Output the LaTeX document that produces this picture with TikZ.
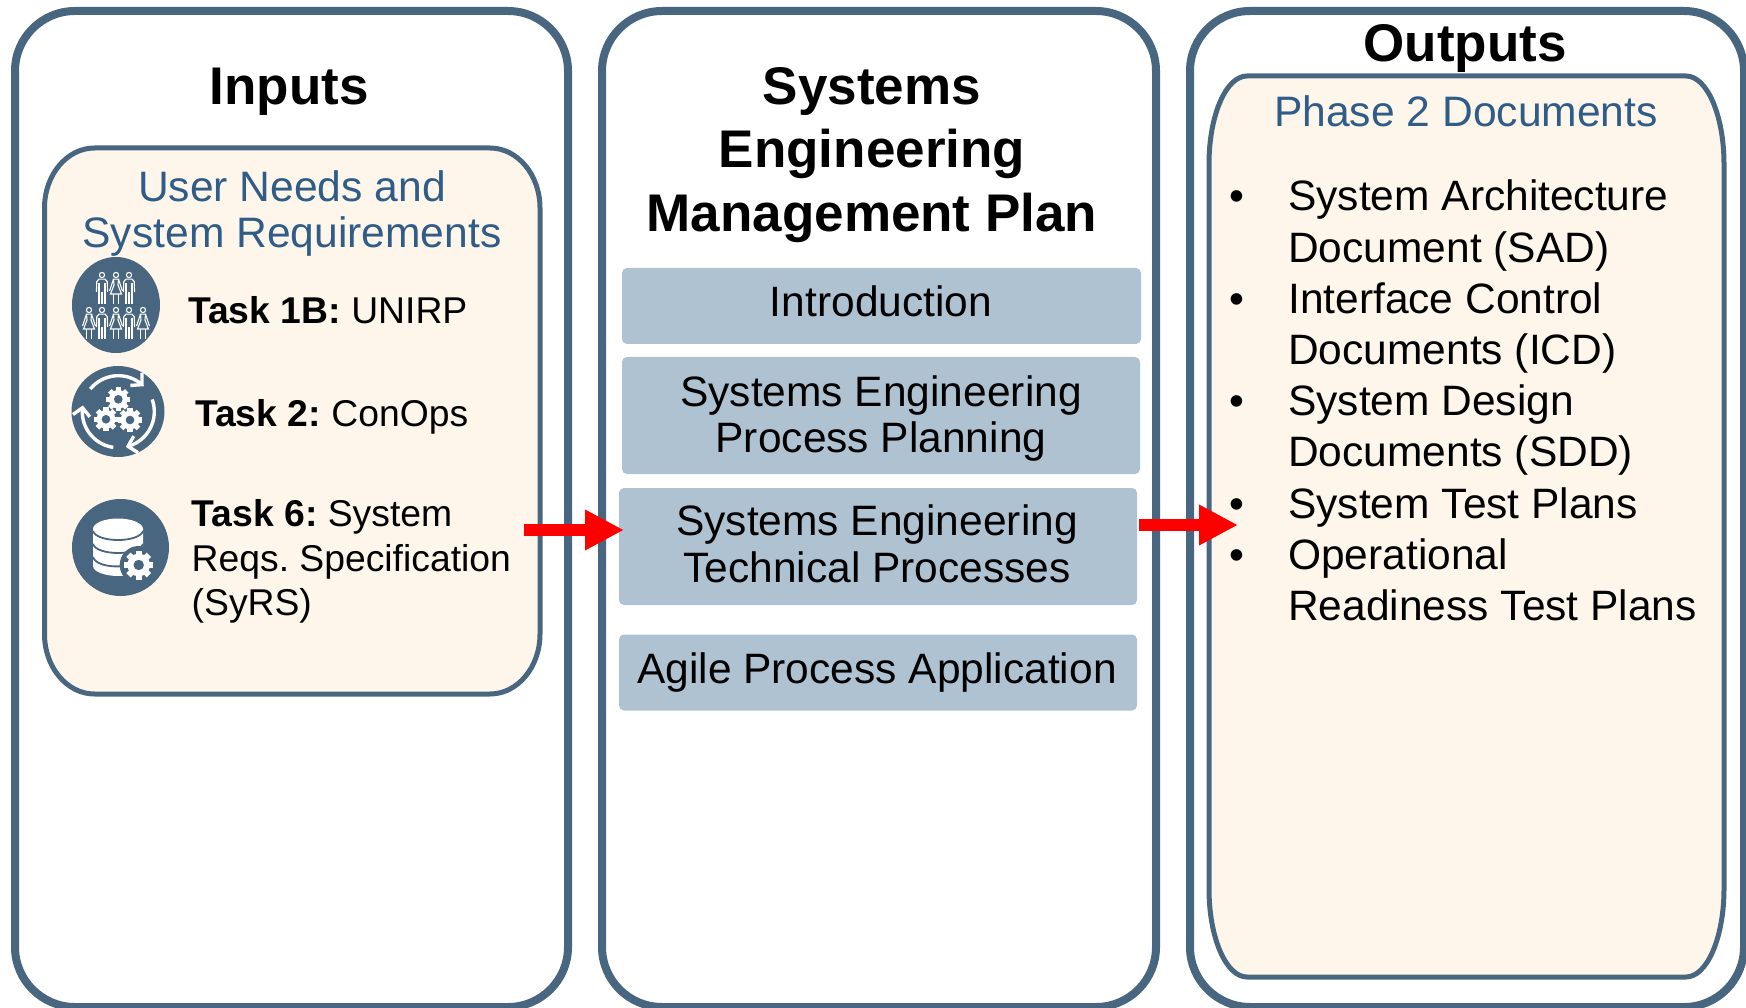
\documentclass[tikz,border=0pt]{standalone}
\usepackage{fontspec}
\setmainfont{Liberation Sans}
\usetikzlibrary{arrows.meta}
\frenchspacing
\definecolor{panelblue}{HTML}{48667F}
\definecolor{cream}{HTML}{FFF6EB}
\definecolor{boxblue}{HTML}{AEC2D1}
\definecolor{headblue}{HTML}{2F5D88}
\newcommand{\roundrect}[7]{% style, x1,y1,x2,y2,rx,ry
  \pgfmathsetmacro{\kx}{0.4477*#6}\pgfmathsetmacro{\ky}{0.4477*#7}
  \pgfmathsetmacro{\xa}{#2+#6}\pgfmathsetmacro{\xb}{#4-#6}
  \pgfmathsetmacro{\ya}{#3+#7}\pgfmathsetmacro{\yb}{#5-#7}
  \pgfmathsetmacro{\xc}{#2+\kx}\pgfmathsetmacro{\xd}{#4-\kx}
  \pgfmathsetmacro{\yc}{#3+\ky}\pgfmathsetmacro{\yd}{#5-\ky}
  \draw[#1] (\xa,#3) -- (\xb,#3) .. controls (\xd,#3) and (#4,\yc) .. (#4,\ya)
    -- (#4,\yb) .. controls (#4,\yd) and (\xd,#5) .. (\xb,#5)
    -- (\xa,#5) .. controls (\xc,#5) and (#2,\yd) .. (#2,\yb)
    -- (#2,\ya) .. controls (#2,\yc) and (\xc,#3) .. (\xa,#3) -- cycle;
}
\newcommand{\manicon}[2]{\begin{scope}[shift={(#1,#2)},white,line width=1.1pt]
  \draw (0,3) circle (2.6);
  \draw (-5.6,20) -- (-5.2,9.5) -- (-3,7.2) -- (3,7.2) -- (5.2,9.5) -- (5.6,20);
  \draw (-3,11) -- (-3,32) (3,11) -- (3,32) (0,20) -- (0,32);
\end{scope}}
\newcommand{\womanicon}[2]{\begin{scope}[shift={(#1,#2)},white,line width=1.1pt]
  \draw (0,3) circle (2.6);
  \draw (-2.5,7.2) -- (2.5,7.2) -- (2,13) -- (5.5,22) -- (-5.5,22) -- (-2,13) -- cycle;
  \draw (-2.5,7.2) -- (-6.5,19) (2.5,7.2) -- (6.5,19);
  \draw (-2.2,22) -- (-2.2,32) (2.2,22) -- (2.2,32);
\end{scope}}
\newcommand{\gearicon}[3]{\begin{scope}[shift={(#1,#2)}]
  \foreach \a in {0,45,...,315}{\draw[white,line width=#3*0.42pt] (\a:0.55*#3) -- (\a:#3);}
  \fill[white] (0,0) circle (0.78*#3);
  \fill[panelblue] (0,0) circle (0.36*#3);
\end{scope}}
\newcommand{\arcarrow}[3]{\draw[white,line width=3.4pt,-{Straight Barb[length=8pt,width=17pt]}]
  plot[domain=#1:#2,samples=24] ({118.3+#3*cos(\x)},{411.7+#3*sin(\x)});}
\tikzset{
  x=1pt,y=-1pt,
  panel/.style={draw=panelblue,line width=8pt,fill=white},
  innerpanel/.style={draw=panelblue,line width=5pt,fill=cream},
  headfont/.style={font=\fontsize{53}{63.5}\selectfont\bfseries,align=center,inner sep=0pt,text=black},
  subhead/.style={font=\fontsize{42.6}{46}\selectfont,align=center,inner sep=0pt,text=headblue},
  tasktext/.style={font=\fontsize{37.3}{44.7}\selectfont,align=left,inner sep=0pt,anchor=west,text=black},
  listtext/.style={font=\fontsize{42.5}{51.2}\selectfont,align=left,inner sep=0pt,text=black},
  graybox/.style={fill=boxblue,draw=none,rounded corners=5pt,inner sep=0pt},
  boxtext/.style={font=\fontsize{42.5}{46.5}\selectfont,align=center,inner sep=0pt,text=black},
  bluearrow/.style={draw=red,line width=11.5pt,-{Triangle[length=39pt,width=38pt]},shorten >=0pt}
}
\begin{document}
\begin{tikzpicture}
\useasboundingbox (0,0) rectangle (1746,1008);
\fill[white] (0,0) rectangle (1746,1008);
\begin{scope}
\clip (0,0) rectangle (1746,1008);
\roundrect{panel}{15}{11}{568}{1007}{60}{60}
\roundrect{panel}{602}{11}{1156}{1007}{60}{60}
\roundrect{panel}{1190}{11}{1744}{1007}{60}{60}
\end{scope}
\roundrect{innerpanel}{44.5}{148}{540}{694}{50}{60}
\roundrect{innerpanel}{1209}{76}{1724}{977}{38}{88}

\node[headfont] (inputs) at (289,91.5) {Inputs};
\node[headfont] (semp) at (872,155) {Systems\\Engineering\\Management Plan};
\node[headfont] (outputs) at (1465,48.5) {Outputs};

\node[subhead] (userneeds) at (292,213) {User Needs and\\System Requirements};
\node[subhead] (phase) at (1466,111) {Phase 2 Documents};

% icon 1
\fill[panelblue] (116,305) ellipse (44 and 48);
\manicon{102}{272}\womanicon{116}{272}\manicon{129}{272}
\womanicon{89}{307}\manicon{102}{307}\womanicon{116}{307}\manicon{129}{307}\womanicon{143}{307}
% icon 2
\fill[panelblue] (118,411.5) ellipse (46.5 and 45.5);
\arcarrow{-141}{-45}{36}
\arcarrow{-20}{78}{36}
\arcarrow{98}{190}{36}
\gearicon{118.3}{399.3}{12}
\gearicon{106}{419.3}{12}
\gearicon{130}{420}{12}
% icon 3
\fill[panelblue] (120.5,547.5) circle (48.5);
\fill[white] (93,529) -- (93,566) .. controls (93,572) and (106,576) .. (118,576)
  .. controls (130,576) and (143,572) .. (143,566) -- (143,529) -- cycle;
\fill[white] (118,529) ellipse (25 and 10.5);
\draw[panelblue,line width=1.8pt] (93,531) .. controls (97,543) and (139,543) .. (143,531);
\draw[panelblue,line width=1.8pt] (93,544) .. controls (97,556) and (139,556) .. (143,544);
\draw[panelblue,line width=1.8pt] (93,557) .. controls (97,569) and (130,569) .. (143,560);
\fill[panelblue] (138.7,565) circle (19);
\gearicon{138.7}{565}{14.5}

\node[tasktext] (task1) at (188,310) {\textbf{Task 1B:} UNIRP};
\node[tasktext] (task2) at (195,416.5) {\textbf{Task 2:} ConOps};
\node[tasktext] (task6) at (191.5,561.5) {\textbf{Task 6:} System\\Reqs. Specification\\(SyRS)};

\node[graybox,minimum width=519pt,minimum height=76pt] (intro) at (881.5,306) {};
\node[graybox,minimum width=518pt,minimum height=117pt] (process) at (881,415.5) {};
\node[graybox,minimum width=518pt,minimum height=117pt] (tech) at (878,546.5) {};
\node[graybox,minimum width=518pt,minimum height=76pt] (agile) at (878,672.5) {};
\node[boxtext] (introtext) at (881,301) {Introduction};
\node[boxtext] (processtext) at (881,418.5) {Systems Engineering\\Process Planning};
\node[boxtext] (techtext) at (877,544) {Systems Engineering\\Technical Processes};
\node[boxtext] (agiletext) at (877,672.5) {Agile Process Application};

\node[listtext,anchor=north west] (outlist) at (1288,180) {%
\llap{\makebox[59pt][l]{•}}System Architecture\\
Document (SAD)\\
\llap{\makebox[59pt][l]{•}}Interface Control\\
Documents (ICD)\\
\llap{\makebox[59pt][l]{•}}System Design\\
Documents (SDD)\\
\llap{\makebox[59pt][l]{•}}System Test Plans\\
\llap{\makebox[59pt][l]{•}}Operational\\
Readiness Test Plans};

\coordinate (intail) at (524,530);
\coordinate (inhead) at (624,530);
\coordinate (outtail) at (1139,525);
\coordinate (outhead) at (1238,525);
\draw[bluearrow] (intail) -- (inhead);
\draw[bluearrow] (outtail) -- (outhead);
\end{tikzpicture}
\end{document}
